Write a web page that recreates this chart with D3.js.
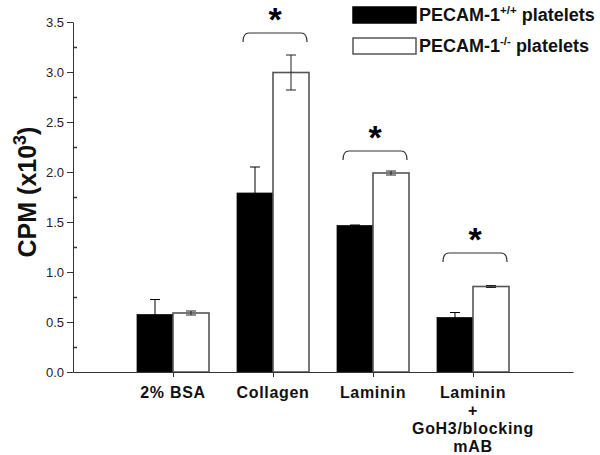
<!DOCTYPE html>
<html><head><meta charset="utf-8">
<script src="https://cdn.jsdelivr.net/npm/d3@7"></script>
<style>body{margin:0;background:#fff}svg{display:block}text{font-family:"Liberation Sans",Arial,sans-serif}</style>
</head><body><svg id="c" width="600" height="455"></svg>
<script>
const categories = ["2% BSA", "Collagen", "Laminin", "Laminin+GoH3"];
const categoryLines = [["2% BSA"], ["Collagen"], ["Laminin"], ["Laminin", "+", "GoH3/blocking", "mAB"]];
const wtValues = [0.575, 1.79, 1.465, 0.545];
const wtErrors = [0.15, 0.26, 0.005, 0.05];
const koValues = [0.59, 2.995, 1.99, 0.855];
const koErrors = [0.02, 0.175, 0.02, 0.01];
const sigCategories = ["Collagen", "Laminin", "Laminin+GoH3"];
const sigLevels = [3.39, 2.21, 1.19];
const yTicks = [0, 0.5, 1.0, 1.5, 2.0, 2.5, 3.0, 3.5];
const yMinorTicks = [0.25, 0.75, 1.25, 1.75, 2.25, 2.75, 3.25];

const svg = d3.select("#c");
const x = d3.scalePoint().domain(categories).range([73, 573]).padding(1);
const y = d3.scaleLinear().domain([0, 3.5]).range([372, 22]);
const bw = 36;
const axisColor = "#333";

const data = categories.map((c, i) => ({c, wt: wtValues[i], wtE: wtErrors[i], ko: koValues[i], koE: koErrors[i]}));
const g = svg.append("g");
data.forEach(d => {
  const cx = x(d.c);
  [[cx - bw/2, d.wt], [cx + bw/2, d.ko]].forEach(([bx, v], k) => {
    g.append("rect").attr("x", bx - bw/2).attr("y", y(v))
      .attr("width", bw).attr("height", y(0) - y(v))
      .attr("fill", k === 0 ? "#000" : "#fff")
      .attr("stroke", k === 0 ? "#111" : "#555").attr("stroke-width", k === 0 ? 0.8 : 1.6);
  });
});
data.forEach(d => {
  const cx = x(d.c);
  [[cx - bw/2, d.wt, d.wtE, "#000"], [cx + bw/2, d.ko, d.koE, "#222"]].forEach(([bx, v, e, col]) => {
    const eb = g.append("g").attr("stroke", col).attr("stroke-width", 1);
    eb.append("line").attr("x1", bx).attr("x2", bx).attr("y1", y(v - e)).attr("y2", y(v + e));
    eb.append("line").attr("x1", bx - 5).attr("x2", bx + 5).attr("y1", y(v + e)).attr("y2", y(v + e));
    eb.append("line").attr("x1", bx - 5).attr("x2", bx + 5).attr("y1", y(v - e)).attr("y2", y(v - e));
  });
});

// y axis
const ya = svg.append("g").attr("transform", "translate(73,0)")
  .call(d3.axisLeft(y).tickValues(yTicks).tickFormat(d3.format(".1f")).tickSize(6).tickSizeOuter(0));
ya.select(".domain").attr("stroke", axisColor);
ya.selectAll(".tick line").attr("stroke", axisColor);
ya.selectAll("text").attr("font-size", 13).attr("fill", "#222").attr("x", -9);
const ym = svg.append("g").attr("transform", "translate(73,0)")
  .call(d3.axisRight(y).tickValues(yMinorTicks).tickFormat("").tickSize(4).tickSizeOuter(0));
ym.select(".domain").remove();
ym.selectAll(".tick line").attr("stroke", axisColor).attr("stroke-width", 1.5);

// x axis
const xa = svg.append("g").attr("transform", "translate(0,372)")
  .call(d3.axisBottom(x).tickSize(5).tickSizeOuter(0).tickFormat(""));
xa.select(".domain").attr("stroke", axisColor);
xa.selectAll(".tick line").attr("stroke", axisColor);

categories.forEach((c, i) => {
  categoryLines[i].forEach((ln, j) => {
    svg.append("text").attr("text-anchor", "middle").attr("font-size", 16)
      .attr("font-weight", "bold").attr("fill", "#111").attr("letter-spacing", 0.7)
      .attr("x", x(c)).attr("y", 398 + j * 18).text(ln);
  });
});

// y title
const yt = svg.append("text").attr("transform", "translate(36,192) rotate(-90)")
  .attr("text-anchor", "middle").attr("font-size", 25).attr("font-weight", "bold").attr("fill", "#111");
yt.append("tspan").text("CPM (x10");
yt.append("tspan").attr("dy", -10).attr("font-size", 18).text("3");
yt.append("tspan").attr("dy", 10).text(")");

// significance brackets
sigCategories.forEach((c, i) => {
  const x1 = x(c) - 30, x2 = x(c) + 34, yy = y(sigLevels[i]);
  svg.append("path").attr("fill", "none").attr("stroke", "#333").attr("stroke-width", 1.2)
    .attr("d", `M${x1},${yy + 9} Q${x1},${yy} ${x1 + 6},${yy} L${x2 - 6},${yy} Q${x2},${yy} ${x2},${yy + 9}`);
  svg.append("text").attr("x", (x1 + x2) / 2).attr("y", yy - 2).attr("text-anchor", "middle")
    .attr("font-size", 34).attr("font-weight", "bold").text("*");
});

// legend
const legend = [["+/+", "#000", "#000", 7, 21], ["-/-", "#fff", "#555", 38, 52]];
legend.forEach(([sup, fill, stroke, ry, ty]) => {
  svg.append("rect").attr("x", 353).attr("y", ry).attr("width", 63).attr("height", 16)
    .attr("fill", fill).attr("stroke", stroke).attr("stroke-width", 1.5);
  const t = svg.append("text").attr("x", 419).attr("y", ty).attr("font-size", 18).attr("font-weight", "bold").attr("fill", "#111");
  t.append("tspan").text("PECAM-1");
  t.append("tspan").attr("dy", -7).attr("font-size", 11.5).text(sup);
  t.append("tspan").attr("dy", 7).text(" platelets");
});
</script></body></html>
